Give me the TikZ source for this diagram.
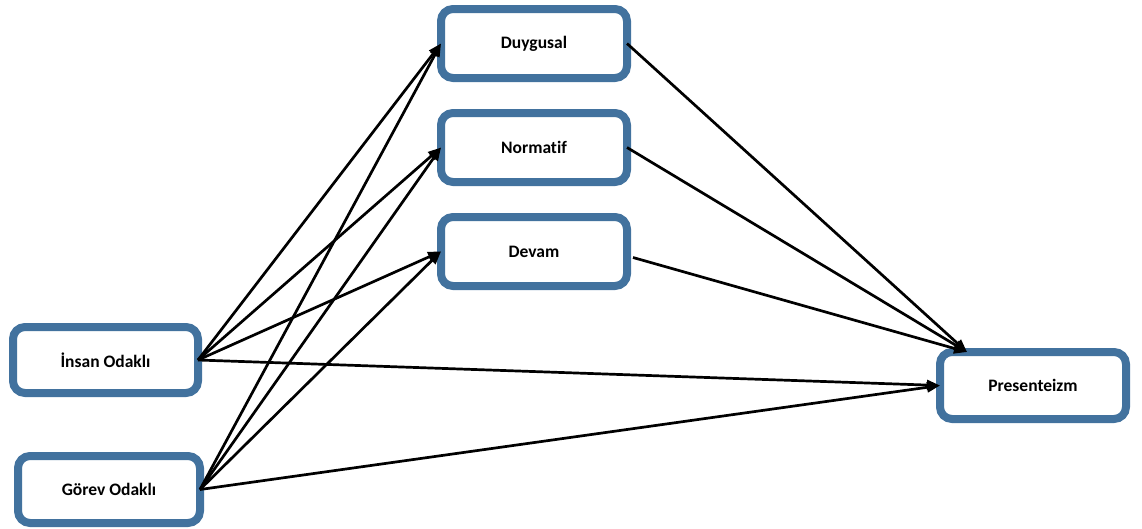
\documentclass[tikz,border=0pt]{standalone}
\usepackage{fontspec}
\setmainfont{Carlito}[Ligatures=NoCommon]
\usetikzlibrary{arrows.meta,calc}
\definecolor{boxblue}{RGB}{66,114,158}
\tikzset{
  factor/.style={draw=boxblue, line width=8pt, rounded corners=12pt, fill=white,
    outer sep=0pt, inner sep=0pt, font=\bfseries\fontsize{17.5}{20}\selectfont},
  link/.style={line width=2.7pt, draw=black, -{Triangle[length=13pt,width=10pt]}}
}
\begin{document}
\begin{tikzpicture}[x=1pt,y=-1pt]
  \useasboundingbox (0,0) rectangle (1142,528);
  % mediators
  \node[factor, minimum width=186pt, minimum height=69pt] (duy) at (534,43.5) {Duygusal};
  \node[factor, minimum width=186pt, minimum height=69pt] (nor) at (534,147.5) {Normatif};
  \node[factor, minimum width=186pt, minimum height=69pt] (dev) at (534,251.5) {Devam};
  % leadership styles
  \node[factor, minimum width=185pt, minimum height=66pt] (ins) at (105.5,360) {İnsan Odaklı};
  \node[factor, minimum width=182pt, minimum height=67pt] (gor) at (109,489.5) {Görev Odaklı};
  % outcome
  \node[factor, minimum width=186pt, minimum height=67pt] (pre) at (1033,385.5) {Presenteizm};
  \coordinate (pretop) at ($(pre.north west)+(27,0)$);
  \coordinate (devout) at ($(dev.east)+(6,6)$);
  % paths from the leadership styles
  \draw[link] (ins.east) -- (duy.west);
  \draw[link] (ins.east) -- (nor.west);
  \draw[link] (ins.east) -- (dev.west);
  \draw[link] (ins.east) -- (pre.west);
  \draw[link] (gor.east) -- (duy.west);
  \draw[link] (gor.east) -- (nor.west);
  \draw[link] (gor.east) -- (dev.west);
  \draw[link] (gor.east) -- (pre.west);
  % paths from the mediators
  \draw[link] (duy.east) -- (pretop);
  \draw[link] (nor.east) -- (pretop);
  \draw[link] (devout) -- (pretop);
\end{tikzpicture}
\end{document}
